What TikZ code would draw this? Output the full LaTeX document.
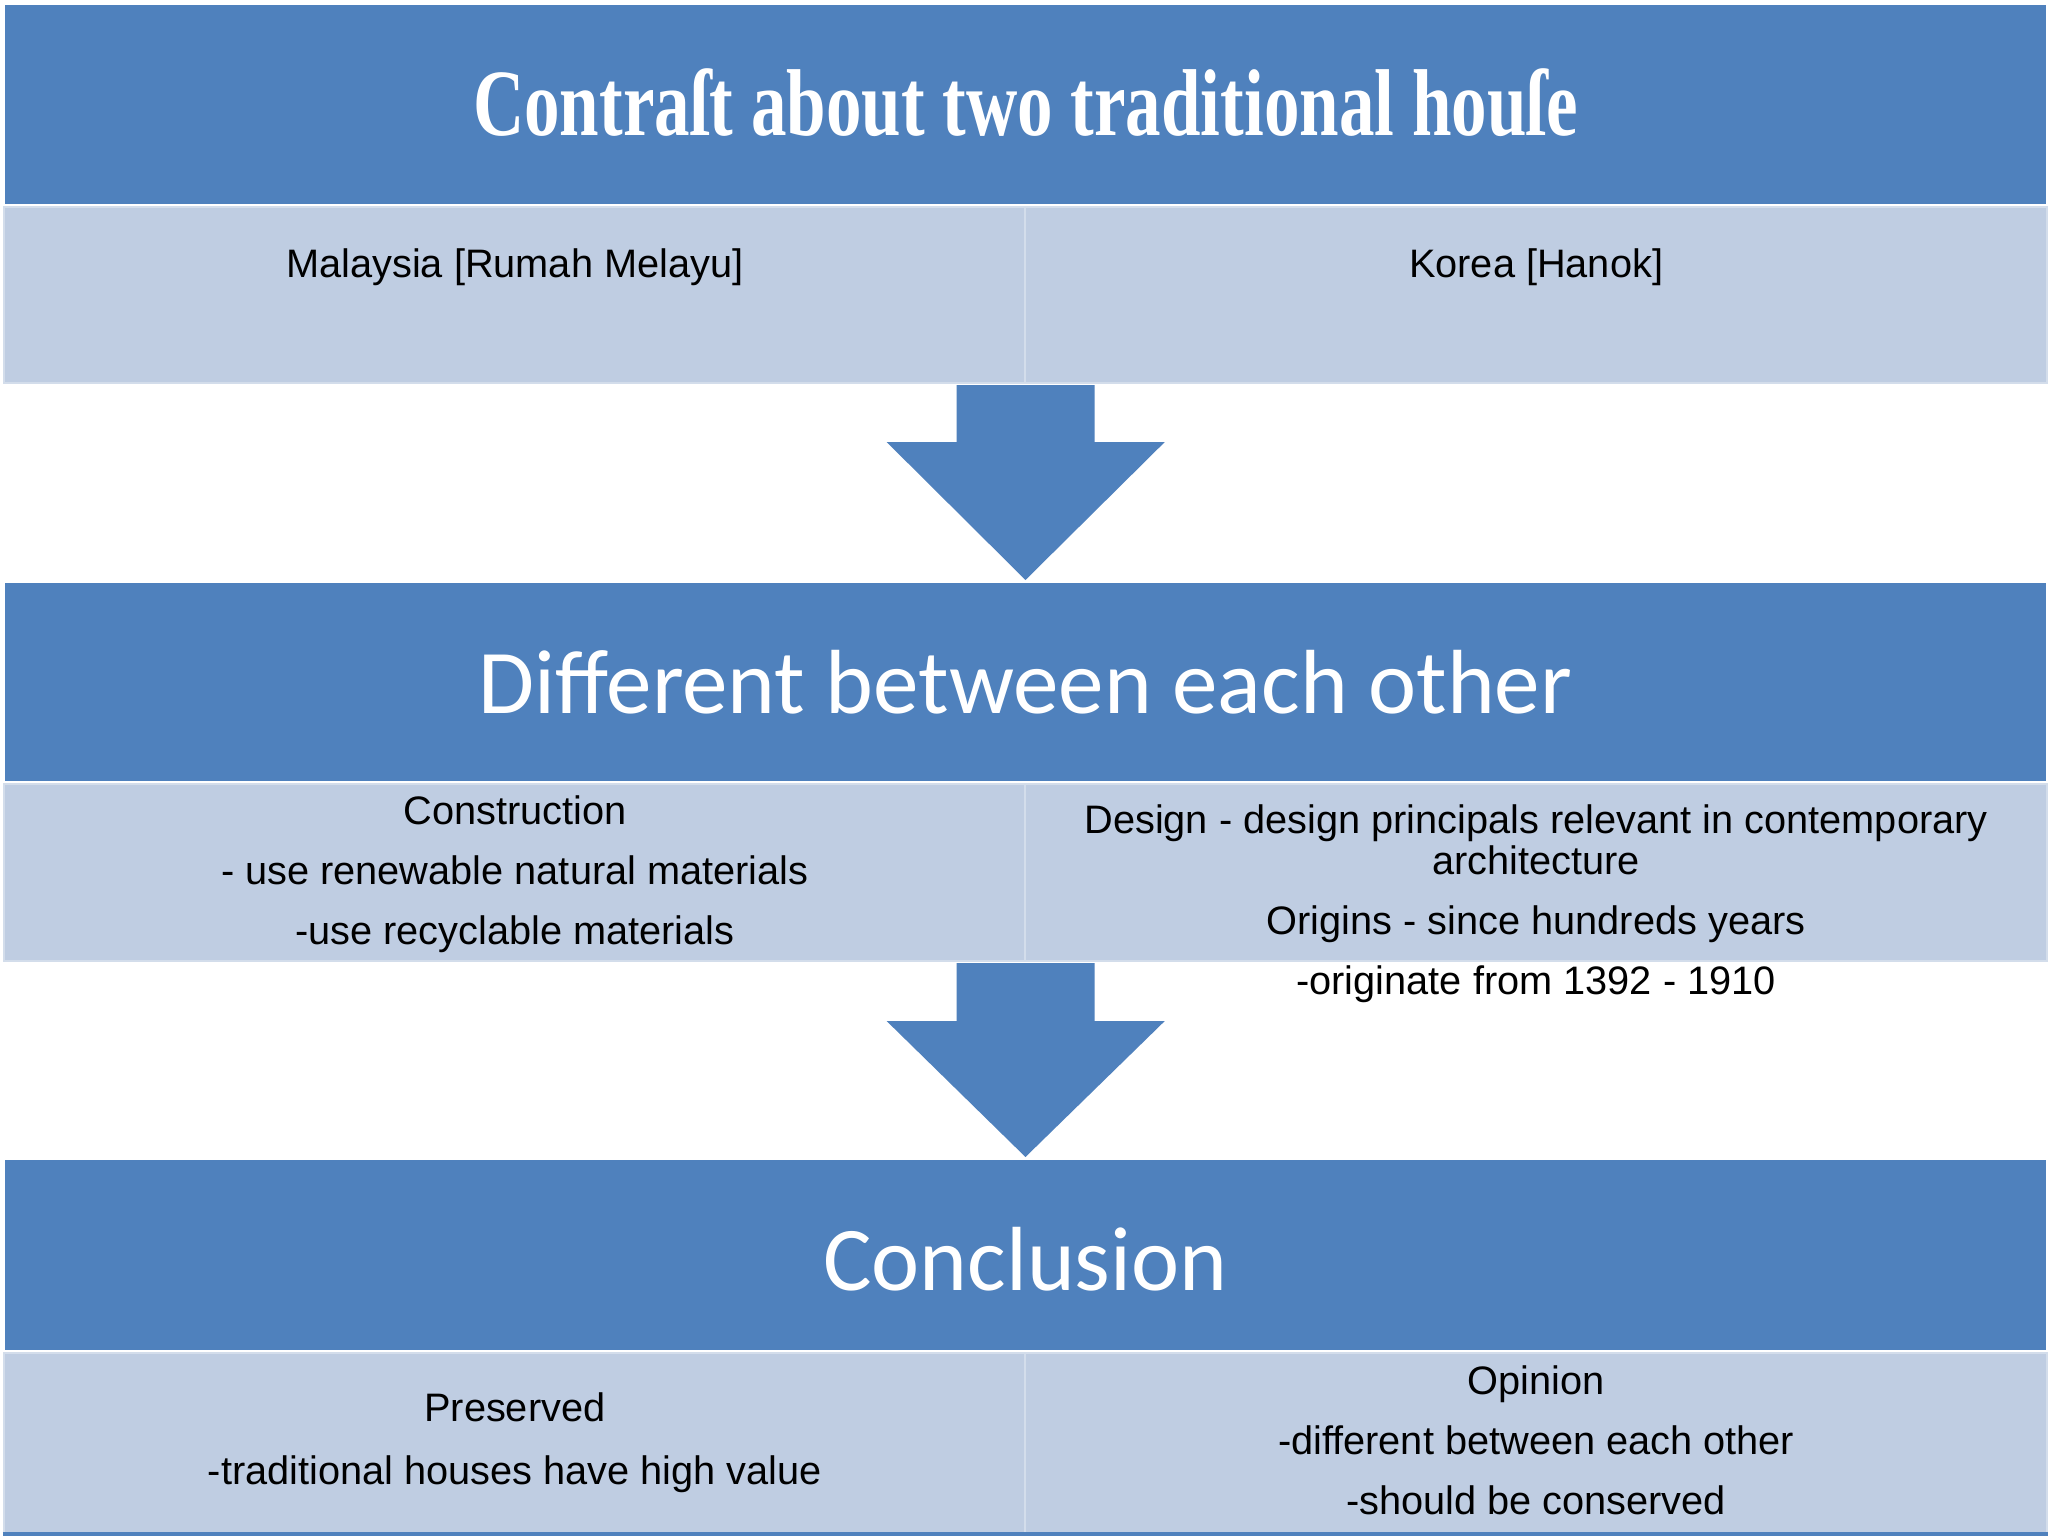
\documentclass[tikz,border=0pt]{standalone}
\usepackage{fontspec}
\setmainfont{Liberation Sans}
\newfontfamily\headfont{Carlito}
\newfontfamily\titlefont{Liberation Serif}
\usetikzlibrary{calc,positioning}
\pgfdeclarelayer{background}
\pgfdeclarelayer{main}
\pgfsetlayers{background,main}
\definecolor{barblue}{HTML}{4F81BD}
\definecolor{cellblue}{HTML}{BFCDE2}
\definecolor{celledge}{HTML}{D3DDEB}

\begin{document}
\begin{tikzpicture}[x=0.01cm, y=-0.01cm,
  bar/.style={fill=barblue, draw=white, line width=0.5pt, inner sep=0pt, minimum width=20.42cm},
  cell/.style={fill=cellblue, draw=celledge, line width=0.6pt, inner sep=0pt, minimum width=10.21cm},
  body/.style={font=\fontsize{11.3}{11.7}\selectfont, align=center, inner sep=0pt, anchor=base},
  head/.style={font=\headfont\fontsize{25.9}{30}\selectfont, text=white, inner sep=0pt, anchor=base},
  bigarrow/.style={fill=barblue}]

\useasboundingbox (0,0) rectangle (2048,1536);

%title bar and the two houses
\node[bar, minimum height=2.01cm, anchor=north west] (bar1) at (3,3) {};
\node[cell, minimum height=1.76cm, anchor=north west] (mal) at (bar1.south west) {};
\node[cell, minimum height=1.76cm, anchor=north east] (kor) at (bar1.south east) {};
\node[head, font=\titlefont\bfseries\fontsize{27}{30}\selectfont] (ttl) at ($(bar1.north)+(0,132)$) {\resizebox{11.04cm}{\height}{Contraſt about two traditional houſe}};
\node[body] (maltxt) at ($(mal.north)+(0,72)$) {Malaysia [Rumah Melayu]};
\node[body] (kortxt) at ($(kor.north)+(0,72)$) {Korea [Hanok]};

%differences
\node[bar, minimum height=2.00cm, anchor=north west] (bar2) at (3,581) {};
\node[cell, minimum height=1.77cm, anchor=north west] (cons) at (bar2.south west) {};
\node[cell, minimum height=1.77cm, anchor=north east] (des) at (bar2.south east) {};
\node[head] (diff) at ($(bar2.north)+(0,132)$) {Different between each other};
\node[body] (constxt) at ($(cons.north)+(0,162)$) {Construction\\[5.4pt]- use renewable natural materials\\[5.4pt]-use recyclable materials};
\node[body] (destxt) at ($(des.north)+(0,212)$) {Design - design principals relevant in contemporary\\architecture\\[5.4pt]Origins - since hundreds years\\[5.4pt]-originate from 1392 - 1910};

%conclusion
\node[bar, minimum height=1.92cm, anchor=north west] (bar3) at (3,1158) {};
\node[cell, minimum height=1.80cm, anchor=north west] (pres) at (bar3.south west) {};
\node[cell, minimum height=1.80cm, anchor=north east] (opin) at (bar3.south east) {};
\node[head] (concl) at ($(bar3.north)+(0,132)$) {Conclusion};
\node[body] (prestxt) at ($(pres.north)+(0,133)$) {Preserved\\[6.2pt]-traditional houses have high value};
\node[body] (opintxt) at ($(opin.north)+(0,163)$) {Opinion\\[5.4pt]-different between each other\\[5.4pt]-should be conserved};
\draw[barblue, line width=1pt] (pres.south west) -- (opin.south east);

\begin{pgfonlayer}{background}
\fill[white] (0,0) rectangle (2048,1536);
%arrow from the houses down to the differences
\fill[bigarrow] ($(mal.south east)+(-70,1)$) -- +(0,57) -- +(-70,57) -- ($(bar2.north)+(0,-1)$)
  -- ($(mal.south east)+(138,58)$) -- +(-70,0) -- +(-70,-57) -- cycle;
%arrow from the differences down to the conclusion
\fill[bigarrow] ($(cons.south east)+(-70,1)$) -- +(0,58) -- +(-70,58) -- ($(bar3.north)+(0,-1)$)
  -- ($(cons.south east)+(138,59)$) -- +(-70,0) -- +(-70,-58) -- cycle;
\end{pgfonlayer}

\end{tikzpicture}
\end{document}
